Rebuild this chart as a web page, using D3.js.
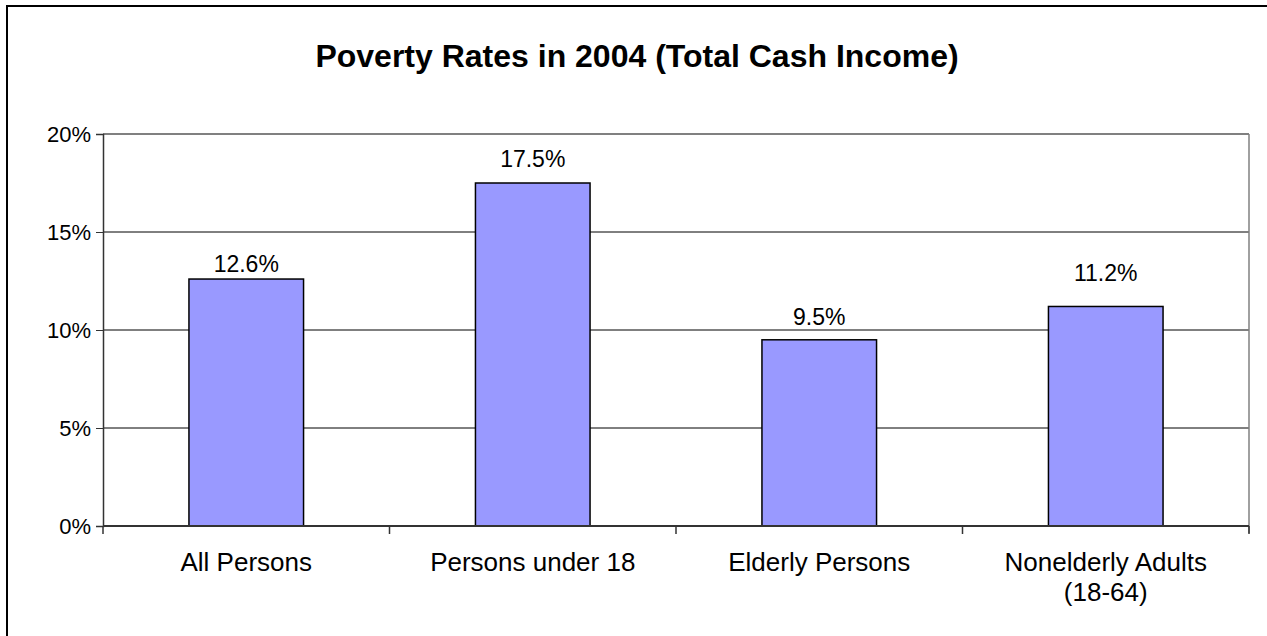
<!DOCTYPE html>
<html>
<head>
<meta charset="utf-8">
<script src="https://cdn.jsdelivr.net/npm/d3@7"></script>
<style>
  html, body { margin: 0; padding: 0; background: #fff; }
  svg { display: block; font-family: "Liberation Sans", Arial, sans-serif; }
</style>
</head>
<body>
<svg id="chart" width="1267" height="636"></svg>
<script>
// Poverty rates by group, 2004 (total cash income), in percent
const categories = ["All Persons", "Persons under 18", "Elderly Persons", "Nonelderly Adults\n(18-64)"];
const rates = [12.6, 17.5, 9.5, 11.2];
const valueLabels = ["12.6%", "17.5%", "9.5%", "11.2%"];
const yTicks = [0, 5, 10, 15, 20];
const yTickLabels = ["0%", "5%", "10%", "15%", "20%"];
const title = "Poverty Rates in 2004 (Total Cash Income)";

const svg = d3.select("#chart");
const plot = { left: 103, right: 1249, top: 134, bottom: 526 };

// how far each value label sits above its bar (label centre to bar top)
const labelLift = [15, 24, 23, 33];

// outer chart frame
svg.append("rect")
  .attr("x", 7).attr("y", 6)
  .attr("width", 1262).attr("height", 640)
  .attr("fill", "#fff").attr("stroke", "#000").attr("stroke-width", 2);

svg.append("text")
  .attr("x", 637).attr("y", 67)
  .attr("text-anchor", "middle")
  .attr("font-size", 32).attr("font-weight", "bold")
  .attr("fill", "#000")
  .text(title);

const x = d3.scaleBand()
  .domain(categories)
  .range([plot.left, plot.right])
  .paddingInner(0.6).paddingOuter(0.3);

const y = d3.scaleLinear().domain([0, 20]).range([plot.bottom, plot.top]);

// horizontal gridlines
svg.append("g").selectAll("line")
  .data(yTicks.filter(d => d > 0))
  .join("line")
  .attr("x1", plot.left).attr("x2", plot.right)
  .attr("y1", d => y(d)).attr("y2", d => y(d))
  .attr("stroke", "#000").attr("stroke-width", 1);

// plot area border (top and right)
svg.append("line")
  .attr("x1", plot.right).attr("x2", plot.right)
  .attr("y1", plot.top).attr("y2", plot.bottom + 7)
  .attr("stroke", "#808080").attr("stroke-width", 1.5);
svg.append("line")
  .attr("x1", plot.left).attr("x2", plot.right)
  .attr("y1", plot.top).attr("y2", plot.top)
  .attr("stroke", "#808080").attr("stroke-width", 1.5);

// y axis
const yAxis = d3.axisLeft(y)
  .tickValues(yTicks)
  .tickFormat((d, i) => yTickLabels[i])
  .tickSize(7).tickPadding(5);
const gy = svg.append("g")
  .attr("transform", `translate(${plot.left},0)`)
  .call(yAxis);
gy.select(".domain").attr("stroke", "#333").attr("stroke-width", 1.5);
gy.selectAll(".tick line").attr("stroke", "#333");
gy.selectAll(".tick text")
  .attr("font-size", 22).attr("fill", "#000")
  .attr("font-family", "Liberation Sans, Arial, sans-serif");

// bars
svg.append("g").selectAll("rect")
  .data(rates)
  .join("rect")
  .attr("x", (d, i) => x(categories[i]))
  .attr("y", d => y(d))
  .attr("width", x.bandwidth())
  .attr("height", d => y(0) - y(d))
  .attr("fill", "#9999FF")
  .attr("stroke", "#000").attr("stroke-width", 1.5);

// x axis with tick marks at category boundaries
const step = (plot.right - plot.left) / categories.length;
svg.append("line")
  .attr("x1", plot.left).attr("x2", plot.right)
  .attr("y1", y(0)).attr("y2", y(0))
  .attr("stroke", "#333").attr("stroke-width", 2);
svg.append("g").selectAll("line")
  .data(d3.range(categories.length + 1))
  .join("line")
  .attr("x1", i => plot.left + i * step).attr("x2", i => plot.left + i * step)
  .attr("y1", y(0)).attr("y2", y(0) + 8)
  .attr("stroke", "#333").attr("stroke-width", 1.5);

// category labels
svg.append("g").selectAll("text")
  .data(categories)
  .join("text")
  .attr("text-anchor", "middle")
  .attr("font-size", 26).attr("fill", "#000")
  .each(function (d) {
    const t = d3.select(this);
    d.split("\n").forEach((line, k) => {
      t.append("tspan")
        .attr("x", x(d) + x.bandwidth() / 2)
        .attr("y", 571 + k * 30)
        .text(line);
    });
  });

// value labels above bars
svg.append("g").selectAll("text")
  .data(rates)
  .join("text")
  .attr("x", (d, i) => x(categories[i]) + x.bandwidth() / 2)
  .attr("y", (d, i) => y(d) - labelLift[i] + 8)
  .attr("text-anchor", "middle")
  .attr("font-size", 23).attr("fill", "#000")
  .text((d, i) => valueLabels[i]);
</script>
</body>
</html>
